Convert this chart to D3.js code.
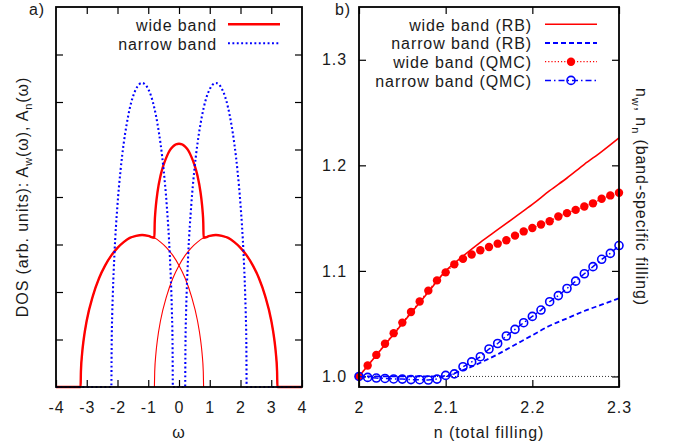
<!DOCTYPE html>
<html>
<head>
<meta charset="utf-8">
<title>DOS and band-specific filling</title>
<style>
  body { margin: 0; background: #fff; }
  svg { display: block; font-family: "Liberation Sans", Arial, sans-serif; }
  text { font-size: 16px; letter-spacing: 0.9px; fill: #1a1a1a; }
  .tick line { stroke: #000; stroke-width: 1.2; }
  .domain { display: none; }
  .frame { fill: none; stroke: #000; stroke-width: 1.8; }
</style>
</head>
<body>
<svg id="chart"></svg>
<script src="https://d3js.org/d3.v7.min.js"></script>
<script>

// ---- panel a) density of states ----
var omegaTotal = [-4,-3.2,-3.19,-3.15,-3.1,-3.0,-2.8,-2.6,-2.4,-2.2,-2.0,-1.8,-1.6,-1.4,-1.2,-1.0,-0.8,-0.79,-0.77,-0.75,-0.7,-0.6,-0.5,-0.4,-0.3,-0.2,-0.1,0,0.1,0.2,0.3,0.4,0.5,0.6,0.7,0.75,0.77,0.79,0.8,1.0,1.2,1.4,1.6,1.8,2.0,2.2,2.4,2.6,2.8,3.0,3.1,3.15,3.19,3.2,4];
var dosWide = [0,0,0.32,0.71,1.00,1.40,1.92,2.29,2.56,2.77,2.93,3.05,3.14,3.18,3.20,3.18,3.14,3.45,3.68,3.83,4.10,4.45,4.68,4.85,4.98,5.06,5.11,5.12,5.11,5.06,4.98,4.85,4.68,4.45,4.10,3.83,3.68,3.45,3.14,3.18,3.20,3.18,3.14,3.05,2.93,2.77,2.56,2.29,1.92,1.40,1.00,0.71,0.32,0,0];

var omegaLeft = [-3.2,-3.19,-3.15,-3.1,-3.0,-2.8,-2.6,-2.4,-2.2,-2.0,-1.8,-1.6,-1.4,-1.2,-1.0,-0.8,-0.6,-0.4,-0.2,0,0.2,0.4,0.6,0.7,0.75,0.79,0.8];
var dosLeft = [0,0.32,0.71,1.00,1.40,1.92,2.29,2.56,2.77,2.93,3.05,3.14,3.18,3.20,3.18,3.14,3.05,2.93,2.77,2.56,2.29,1.92,1.40,1.00,0.71,0.32,0];
var omegaRight = [-0.8,-0.79,-0.75,-0.7,-0.6,-0.4,-0.2,0,0.2,0.4,0.6,0.8,1.0,1.2,1.4,1.6,1.8,2.0,2.2,2.4,2.6,2.8,3.0,3.1,3.15,3.19,3.2];
var dosRight = [0,0.32,0.71,1.00,1.40,1.92,2.29,2.56,2.77,2.93,3.05,3.14,3.18,3.20,3.18,3.14,3.05,2.93,2.77,2.56,2.29,1.92,1.40,1.00,0.71,0.32,0];

var omegaNarrow = [-4,-2.2,-2.19,-2.17,-2.15,-2.1,-2.0,-1.9,-1.8,-1.7,-1.6,-1.5,-1.4,-1.3,-1.2,-1.1,-1.0,-0.9,-0.8,-0.7,-0.6,-0.5,-0.4,-0.3,-0.25,-0.23,-0.21,-0.2,0.2,0.21,0.23,0.25,0.3,0.4,0.5,0.6,0.7,0.8,0.9,1.0,1.1,1.2,1.3,1.4,1.5,1.6,1.7,1.8,1.9,2.0,2.1,2.15,2.17,2.19,2.2,4];
var dosNarrow = [0,0,0.90,1.56,2.00,2.79,3.84,4.57,5.12,5.54,5.87,6.11,6.27,6.37,6.40,6.37,6.27,6.11,5.87,5.54,5.12,4.57,3.84,2.79,2.00,1.56,0.90,0,0,0.90,1.56,2.00,2.79,3.84,4.57,5.12,5.54,5.87,6.11,6.27,6.37,6.40,6.37,6.27,6.11,5.87,5.54,5.12,4.57,3.84,2.79,2.00,1.56,0.90,0,0];

var omegaTicks = [-4,-3,-2,-1,0,1,2,3,4];
var dosTicks = [1,2,3,4,5,6,7];

// ---- panel b) band-specific filling vs total filling ----
var fillN = [2.00,2.01,2.02,2.03,2.04,2.05,2.06,2.07,2.08,2.09,2.10,2.11,2.12,2.13,2.14,2.15,2.16,2.17,2.18,2.19,2.20,2.21,2.22,2.23,2.24,2.25,2.26,2.27,2.28,2.29,2.30];
var wideQMC = [1.000,1.0104,1.0204,1.031,1.041,1.051,1.061,1.071,1.0813,1.091,1.0986,1.1062,1.1115,1.1155,1.1195,1.1226,1.1258,1.129,1.1334,1.1374,1.1406,1.144,1.147,1.1515,1.1547,1.1578,1.161,1.164,1.1683,1.1715,1.174];
var narrowQMC = [1.000,0.9991,0.9985,0.9981,0.9976,0.9975,0.9970,0.9969,0.9966,0.9975,1.0010,1.0024,1.0092,1.0138,1.0187,1.0260,1.0312,1.0383,1.0446,1.0509,1.0569,1.0629,1.0708,1.0766,1.0833,1.0903,1.0973,1.1040,1.1110,1.1166,1.124];

var fillRB = [2.00,2.02,2.04,2.06,2.08,2.10,2.12,2.14,2.16,2.18,2.20,2.22,2.24,2.26,2.28,2.30];
var wideRB = [1.000,1.020,1.040,1.060,1.080,1.100,1.114,1.127,1.139,1.151,1.163,1.176,1.188,1.201,1.213,1.226];
var fillRBn = [2.00,2.05,2.10,2.11,2.12,2.14,2.16,2.18,2.20,2.22,2.24,2.26,2.28,2.30];
var narrowRB = [1.000,1.000,1.000,1.003,1.006,1.013,1.021,1.030,1.039,1.048,1.055,1.062,1.068,1.074];

var refN = [2.0, 2.3];
var refV = [1.0, 1.0];

var fillTicks = [2, 2.1, 2.2, 2.3];
var nTicks = [1.0, 1.1, 1.2, 1.3];

var width = 674, height = 448;
var red = "#ff0000", blue = "#0000ff";
var dots = "1.9,2.5";

var svg = d3.select("#chart")
    .attr("width", width)
    .attr("height", height);

// ================= panel a =================
var a = { left: 56, right: 302, top: 7, bottom: 387 };
var xA = d3.scaleLinear().domain([-4, 4]).range([a.left, a.right]);
var yA = d3.scaleLinear().domain([0, 8]).range([a.bottom, a.top]);

var gA = svg.append("g");

gA.append("g").attr("transform", "translate(0," + a.bottom + ")")
    .call(d3.axisBottom(xA).tickValues(omegaTicks).tickSizeInner(-7).tickSizeOuter(0)
        .tickPadding(14.5).tickFormat(d => String(d)));
gA.append("g").attr("transform", "translate(0," + a.top + ")")
    .call(d3.axisTop(xA).tickValues(omegaTicks.slice(1, -1)).tickSizeInner(-7).tickSizeOuter(0).tickFormat(""));
gA.append("g").attr("transform", "translate(" + a.left + ",0)")
    .call(d3.axisLeft(yA).tickValues(dosTicks).tickSizeInner(-7).tickSizeOuter(0).tickFormat(""));
gA.append("g").attr("transform", "translate(" + a.right + ",0)")
    .call(d3.axisRight(yA).tickValues(dosTicks).tickSizeInner(-7).tickSizeOuter(0).tickFormat(""));
gA.selectAll(".tick text").attr("fill", "#1a1a1a").style("font-size", "16px").attr("font-family", null);

var lineA = d3.line().x(d => xA(d[0])).y(d => yA(d[1])).curve(d3.curveMonotoneX);

gA.append("path").datum(d3.zip(omegaLeft, dosLeft))
    .attr("d", lineA).attr("fill", "none").attr("stroke", red).attr("stroke-width", 1.1);
gA.append("path").datum(d3.zip(omegaRight, dosRight))
    .attr("d", lineA).attr("fill", "none").attr("stroke", red).attr("stroke-width", 1.1);
gA.append("path").datum(d3.zip(omegaTotal, dosWide))
    .attr("d", lineA).attr("fill", "none").attr("stroke", red).attr("stroke-width", 2.4)
    .attr("stroke-linejoin", "round");
gA.append("path").datum(d3.zip(omegaNarrow, dosNarrow))
    .attr("d", lineA).attr("fill", "none").attr("stroke", blue).attr("stroke-width", 2.1)
    .attr("stroke-dasharray", dots);

gA.append("rect").attr("class", "frame")
    .attr("x", a.left).attr("y", a.top)
    .attr("width", a.right - a.left).attr("height", a.bottom - a.top);

// legend a
var legA = [
  { label: "wide band", color: red, w: 2.4, dash: null },
  { label: "narrow band", color: blue, w: 2.1, dash: dots }
];
legA.forEach(function(d, i) {
  var y = 24.3 + i * 19;
  gA.append("text").attr("x", 217).attr("y", y + 6.3).attr("text-anchor", "end").text(d.label);
  gA.append("line").attr("x1", 228).attr("x2", 280).attr("y1", y).attr("y2", y)
    .attr("stroke", d.color).attr("stroke-width", d.w).attr("stroke-dasharray", d.dash);
});

gA.append("text").attr("x", 45).attr("y", 15).attr("text-anchor", "end").text("a)");
gA.append("text").attr("x", (a.left + a.right) / 2).attr("y", 438).attr("text-anchor", "middle").text("ω");

var ylabA = gA.append("text").attr("text-anchor", "middle")
    .attr("transform", "translate(28," + ((a.top + a.bottom) / 2) + ") rotate(-90)");
ylabA.append("tspan").text("DOS (arb. units): A");
ylabA.append("tspan").attr("dy", 4).style("font-size", "11px").text("w");
ylabA.append("tspan").attr("dy", -4).text("(ω), A");
ylabA.append("tspan").attr("dy", 4).style("font-size", "11px").text("n");
ylabA.append("tspan").attr("dy", -4).text("(ω)");

// ================= panel b =================
var b = { left: 359, right: 619, top: 7, bottom: 387 };
var xB = d3.scaleLinear().domain([2, 2.3]).range([b.left, b.right]);
var yB = d3.scaleLinear().domain([0.99, 1.35]).range([b.bottom, b.top]);

var gB = svg.append("g");

gB.append("g").attr("transform", "translate(0," + b.bottom + ")")
    .call(d3.axisBottom(xB).tickValues(fillTicks).tickSizeInner(-7).tickSizeOuter(0)
        .tickPadding(14.5).tickFormat(d => String(d)));
gB.append("g").attr("transform", "translate(0," + b.top + ")")
    .call(d3.axisTop(xB).tickValues(fillTicks).tickSizeInner(-7).tickSizeOuter(0).tickFormat(""));
gB.append("g").attr("transform", "translate(" + b.left + ",0)")
    .call(d3.axisLeft(yB).tickValues(nTicks).tickSizeInner(-7).tickSizeOuter(0)
        .tickPadding(12).tickFormat(d3.format(".1f")));
gB.append("g").attr("transform", "translate(" + b.right + ",0)")
    .call(d3.axisRight(yB).tickValues(nTicks).tickSizeInner(-7).tickSizeOuter(0).tickFormat(""));
gB.selectAll(".tick text").attr("fill", "#1a1a1a").style("font-size", "16px").attr("font-family", null);

var lineB = d3.line().x(d => xB(d[0])).y(d => yB(d[1])).curve(d3.curveMonotoneX);
var lineStraight = d3.line().x(d => xB(d[0])).y(d => yB(d[1]));

gB.append("path").datum(d3.zip(refN, refV))
    .attr("d", lineStraight).attr("fill", "none").attr("stroke", "#333").attr("stroke-width", 1)
    .attr("stroke-dasharray", "1,2");
gB.append("path").datum(d3.zip(fillRB, wideRB))
    .attr("d", lineB).attr("fill", "none").attr("stroke", red).attr("stroke-width", 1.6);
gB.append("path").datum(d3.zip(fillRBn, narrowRB))
    .attr("d", lineB).attr("fill", "none").attr("stroke", blue).attr("stroke-width", 1.8)
    .attr("stroke-dasharray", "5,3");

gB.append("path").datum(d3.zip(fillN, wideQMC))
    .attr("d", lineStraight).attr("fill", "none").attr("stroke", red).attr("stroke-width", 1.2)
    .attr("stroke-dasharray", "1.2,2");
gB.append("g").selectAll("circle").data(d3.zip(fillN, wideQMC)).enter().append("circle")
    .attr("cx", d => xB(d[0])).attr("cy", d => yB(d[1])).attr("r", 4.2).attr("fill", red);

gB.append("path").datum(d3.zip(fillN, narrowQMC))
    .attr("d", lineStraight).attr("fill", "none").attr("stroke", blue).attr("stroke-width", 1.5)
    .attr("stroke-dasharray", "6,3,1.5,3");
gB.append("g").selectAll("circle").data(d3.zip(fillN, narrowQMC)).enter().append("circle")
    .attr("cx", d => xB(d[0])).attr("cy", d => yB(d[1])).attr("r", 4)
    .attr("fill", "none").attr("stroke", blue).attr("stroke-width", 1.6);

gB.append("rect").attr("class", "frame")
    .attr("x", b.left).attr("y", b.top)
    .attr("width", b.right - b.left).attr("height", b.bottom - b.top);

// legend b
var legB = [
  { label: "wide band (RB)", color: red, w: 1.6, dash: null, mark: null },
  { label: "narrow band (RB)", color: blue, w: 1.8, dash: "5,3", mark: null },
  { label: "wide band (QMC)", color: red, w: 1.2, dash: "1.2,2", mark: "filled" },
  { label: "narrow band (QMC)", color: blue, w: 1.5, dash: "6,3,1.5,3", mark: "open" }
];
legB.forEach(function(d, i) {
  var y = 24.3 + i * 18.7;
  gB.append("text").attr("x", 532).attr("y", y + 6.3).attr("text-anchor", "end").text(d.label);
  gB.append("line").attr("x1", 545).attr("x2", 597).attr("y1", y).attr("y2", y)
    .attr("stroke", d.color).attr("stroke-width", d.w).attr("stroke-dasharray", d.dash);
  if (d.mark === "filled") {
    gB.append("circle").attr("cx", 571).attr("cy", y).attr("r", 4.2).attr("fill", d.color);
  } else if (d.mark === "open") {
    gB.append("circle").attr("cx", 571).attr("cy", y).attr("r", 4)
      .attr("fill", "none").attr("stroke", d.color).attr("stroke-width", 1.6);
  }
});

gB.append("text").attr("x", 351).attr("y", 15).attr("text-anchor", "end").text("b)");
gB.append("text").attr("x", (b.left + b.right) / 2).attr("y", 438).attr("text-anchor", "middle").text("n (total filling)");

var ylabB = gB.append("text").attr("text-anchor", "middle")
    .attr("transform", "translate(636," + ((b.top + b.bottom) / 2) + ") rotate(90)");
ylabB.append("tspan").text("n");
ylabB.append("tspan").attr("dy", 4).style("font-size", "11px").text("w");
ylabB.append("tspan").attr("dy", -4).text(", n");
ylabB.append("tspan").attr("dy", 4).style("font-size", "11px").text("n");
ylabB.append("tspan").attr("dy", -4).text(" (band-specific filling)");

</script>
</body>
</html>
